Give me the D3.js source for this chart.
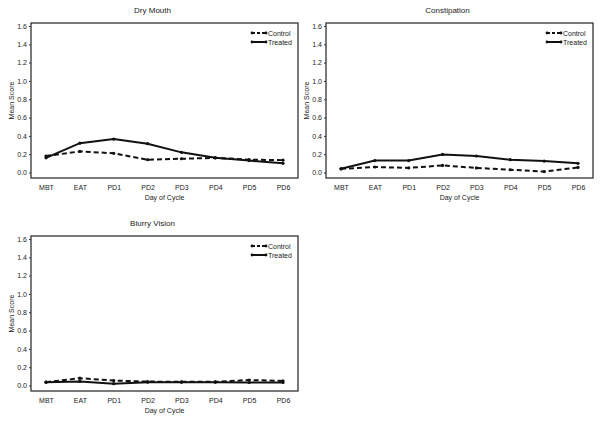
<!DOCTYPE html>
<html><head><meta charset="utf-8">
<script src="https://cdn.jsdelivr.net/npm/d3@7"></script>
<style>body{margin:0;background:#fff}svg{display:block}text{font-family:"Liberation Sans",Arial,sans-serif;fill:#222}</style>
</head><body>
<script>
const days = ["MBT","EAT","PD1","PD2","PD3","PD4","PD5","PD6"];
const yTicks = [0,0.2,0.4,0.6,0.8,1.0,1.2,1.4,1.6];
const titles = ["Dry Mouth","Constipation","Blurry Vision"];
const dryControl = [0.18,0.23,0.21,0.14,0.15,0.16,0.14,0.135];
const dryTreated = [0.16,0.32,0.365,0.315,0.22,0.16,0.13,0.10];
const conControl = [0.04,0.06,0.05,0.077,0.05,0.03,0.01,0.055];
const conTreated = [0.04,0.13,0.13,0.197,0.18,0.14,0.125,0.10];
const bluControl = [0.036,0.08,0.054,0.043,0.04,0.04,0.06,0.05];
const bluTreated = [0.036,0.045,0.02,0.036,0.036,0.036,0.033,0.033];

const panels = [
  {title:titles[0], control:dryControl, treated:dryTreated, x0:31, x1:298, top:23},
  {title:titles[1], control:conControl, treated:conTreated, x0:326, x1:593, top:23},
  {title:titles[2], control:bluControl, treated:bluTreated, x0:31, x1:298, top:236}
];

const svg = d3.select("body").append("svg").attr("width",600).attr("height",423);

panels.forEach(p => {
  const g = svg.append("g");
  const x = d3.scalePoint().domain(days).range([p.x0+15, p.x1-15]);
  const y = d3.scaleLinear().domain([0,1.6]).range([p.top+149.5, p.top+3]);
  const bottom = p.top+155;
  g.append("rect").attr("x",p.x0).attr("y",p.top).attr("width",p.x1-p.x0).attr("height",bottom-p.top)
    .attr("fill","none").attr("stroke","#333").attr("stroke-width",1.3);
  const ya = g.append("g").attr("transform",`translate(${p.x0},0)`)
    .call(d3.axisLeft(y).tickValues(yTicks).tickFormat(d3.format(".1f")).tickSize(2).tickPadding(2));
  ya.select(".domain").remove();
  ya.selectAll("line").attr("stroke","#333");
  ya.selectAll("text").attr("font-size",7).style("fill","#222");
  const xa = g.append("g").attr("transform",`translate(0,${bottom})`)
    .call(d3.axisBottom(x).tickSize(0).tickPadding(7));
  xa.select(".domain").remove();
  xa.selectAll("text").attr("font-size",7).style("fill","#222");
  g.append("text").attr("x",(p.x0+p.x1)/2).attr("y",bottom+22).attr("text-anchor","middle")
    .attr("font-size",7).style("fill","#222").text("Day of Cycle");
  g.append("text").attr("transform",`translate(${p.x0-17},${(p.top+bottom)/2}) rotate(-90)`)
    .attr("text-anchor","middle").attr("font-size",7).style("fill","#222").text("Mean Score");
  g.append("text").attr("x",(p.x0+p.x1)/2-12).attr("y",p.top-10).attr("text-anchor","middle")
    .attr("font-size",8).style("fill","#222").text(p.title);
  const line = d3.line().x((d,i)=>x(days[i])).y(d=>y(d));
  const series = [
    {vals:p.control, dash:"5,3"},
    {vals:p.treated, dash:null}
  ];
  series.forEach(s => {
    g.append("path").datum(s.vals).attr("d",line).attr("fill","none").attr("stroke","#111")
      .attr("stroke-width",2).attr("stroke-dasharray",s.dash);
    g.selectAll(null).data(s.vals).join("circle").attr("cx",(d,i)=>x(days[i])).attr("cy",d=>y(d))
      .attr("r",1.6).attr("fill","#111");
  });
  const lx = p.x1-46, ly = p.top+10;
  series.forEach((s,k) => {
    const yy = ly + k*9;
    g.append("line").attr("x1",lx).attr("x2",lx+14).attr("y1",yy).attr("y2",yy)
      .attr("stroke","#111").attr("stroke-width",2).attr("stroke-dasharray",s.dash?"3,2":null);
    g.append("circle").attr("cx",lx).attr("cy",yy).attr("r",1.4).attr("fill","#111");
    g.append("circle").attr("cx",lx+14).attr("cy",yy).attr("r",1.4).attr("fill","#111");
    g.append("text").attr("x",lx+16).attr("y",yy+2.5).attr("font-size",7).style("fill","#222")
      .text(k===0?"Control":"Treated");
  });
});
</script>
</body></html>
